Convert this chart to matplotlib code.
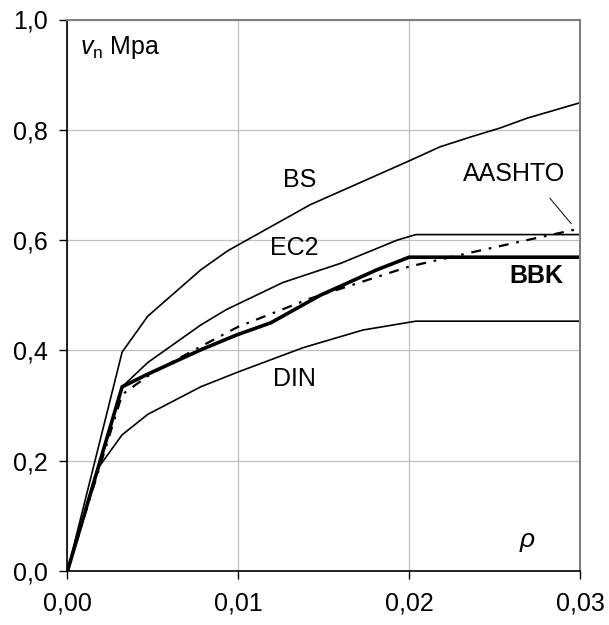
import matplotlib
matplotlib.use('Agg')
import matplotlib.pyplot as plt

plt.rcParams['font.family'] = ['Liberation Sans', 'DejaVu Sans']
plt.rcParams['mathtext.fontset'] = 'custom'
plt.rcParams['mathtext.rm'] = 'Liberation Sans'
plt.rcParams['mathtext.it'] = 'Liberation Sans:italic'

# rho (reinforcement ratio) vs v_n [MPa]
bs_x = [0, 0.0032, 0.0047, 0.0078, 0.0094, 0.0142, 0.0201, 0.0218, 0.0236, 0.0253, 0.0269, 0.030]
bs_y = [0, 0.397, 0.462, 0.546, 0.581, 0.664, 0.745, 0.769, 0.787, 0.803, 0.821, 0.849]

ec2_x = [0, 0.0032, 0.0047, 0.0078, 0.0093, 0.0126, 0.0160, 0.0193, 0.0204, 0.030]
ec2_y = [0, 0.334, 0.378, 0.446, 0.474, 0.523, 0.558, 0.600, 0.610, 0.610]

bbk_x = [0, 0.0032, 0.0047, 0.0078, 0.0099, 0.0119, 0.0148, 0.0181, 0.0200, 0.030]
bbk_y = [0, 0.334, 0.357, 0.401, 0.428, 0.450, 0.500, 0.546, 0.569, 0.569]

din_x = [0, 0.0018, 0.0032, 0.0047, 0.0078, 0.0100, 0.0138, 0.0173, 0.0204, 0.030]
din_y = [0, 0.187, 0.247, 0.284, 0.334, 0.361, 0.405, 0.437, 0.453, 0.453]

aashto_x = [0, 0.0032, 0.0050, 0.0078, 0.0100, 0.0142, 0.0167, 0.0200, 0.0237, 0.0269, 0.030]
aashto_y = [0, 0.320, 0.360, 0.407, 0.443, 0.494, 0.519, 0.552, 0.578, 0.600, 0.621]

x_ticks = [0, 0.01, 0.02, 0.03]
x_labels = ['0,00', '0,01', '0,02', '0,03']
y_ticks = [0, 0.2, 0.4, 0.6, 0.8, 1.0]
y_labels = ['0,0', '0,2', '0,4', '0,6', '0,8', '1,0']

fig = plt.figure(figsize=(6.09, 6.25), dpi=100)
ax = fig.add_axes([0.1108, 0.0864, 0.8415, 0.8824])

ax.plot(bs_x, bs_y, color='black', lw=1.2)
ax.plot(ec2_x, ec2_y, color='black', lw=1.2)
ax.plot(din_x, din_y, color='black', lw=1.2)
ax.plot(bbk_x, bbk_y, color='black', lw=2.6)
ax.plot(aashto_x, aashto_y, color='black', lw=1.6, linestyle=(0, (4.5, 3.5, 1.2, 3.5)))

ax.set_xlim(0, 0.03)
ax.set_ylim(0, 1.0)
ax.set_xticks(x_ticks)
ax.set_xticklabels(x_labels)
ax.set_yticks(y_ticks)
ax.set_yticklabels(y_labels)
ax.tick_params(axis='both', direction='out', length=6, width=1, labelsize=18, colors='black')
ax.tick_params(axis='x', pad=9)
ax.tick_params(axis='y', pad=8)

ax.grid(True, color='#c0c0c0', lw=0.9)
ax.set_axisbelow(True)
for side in ['top', 'right']:
    ax.spines[side].set_color('#808080')
    ax.spines[side].set_linewidth(1.5)
for side in ['left', 'bottom']:
    ax.spines[side].set_color('black')
    ax.spines[side].set_linewidth(1.2)

ax.text(0.0136, 0.709, 'BS', fontsize=18, ha='center', va='center')
ax.text(0.0133, 0.585, 'EC2', fontsize=18, ha='center', va='center')
ax.text(0.0133, 0.349, 'DIN', fontsize=18, ha='center', va='center')
ax.text(0.02747, 0.535, 'BBK', fontsize=18, ha='center', va='center', fontweight='bold')
ax.text(0.02617, 0.720, 'AASHTO', fontsize=18, ha='center', va='center')
ax.annotate('', xy=(0.02959, 0.626), xytext=(0.02813, 0.680),
            arrowprops=dict(arrowstyle='-', color='black', lw=0.7))
ax.text(0.0269, 0.052, r'$\rho$', fontsize=19, ha='center', va='center')
ax.text(0.00073, 0.950, r'$v_{\mathrm{n}}$ Mpa', fontsize=18, ha='left', va='center')

fig.savefig('out.png', dpi=100)
